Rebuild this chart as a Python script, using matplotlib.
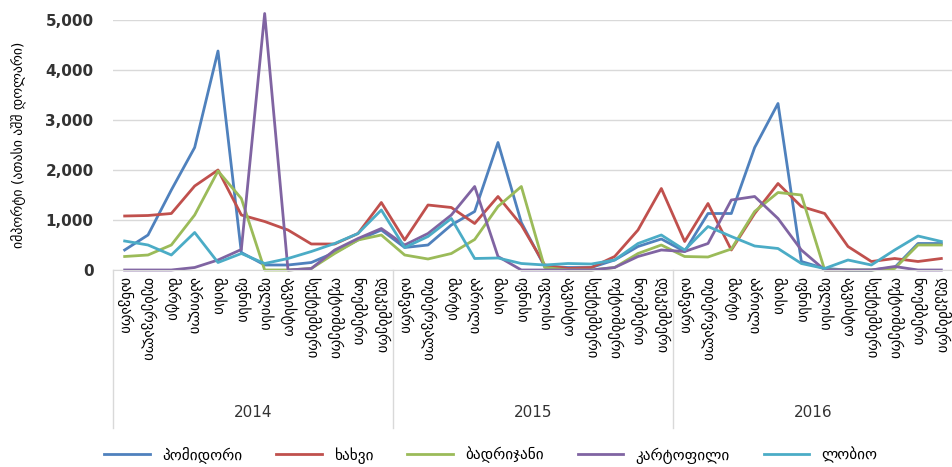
import numpy as np
import matplotlib
matplotlib.use("Agg")
import matplotlib.pyplot as plt
from matplotlib.ticker import FuncFormatter
import matplotlib.transforms as mtransforms

plt.rcParams['font.family'] = ['DejaVu Sans']

months = ["იანვარი", "თებერვალი", "მარტი", "აპრილი", "მაისი", "ივნისი",
          "ივლისი", "აგვისტო", "სექტემბერი", "ოქტომბერი", "ნოემბერი", "დეკემბერი"]
years = ["2014", "2015", "2016"]

# იმპორტი, ათასი აშშ დოლარი (2014-2016, თვეების მიხედვით)
pomidori = [400, 700, 1600, 2450, 4380, 350, 100, 100, 150, 350, 600, 800,
            450, 500, 900, 1170, 2550, 950, 70, 50, 50, 200, 470, 620,
            370, 1130, 1130, 2450, 3330, 170, 30, 0, 0, 50, 530, 530]
xaxvi = [1080, 1090, 1130, 1680, 2000, 1100, 970, 800, 520, 520, 730, 1350,
         600, 1300, 1250, 930, 1470, 900, 100, 30, 50, 270, 800, 1630,
         570, 1330, 400, 1130, 1730, 1270, 1130, 470, 170, 230, 170, 230]
badrijani = [270, 300, 500, 1100, 1980, 1430, 0, 0, 30, 330, 600, 700,
             300, 220, 330, 610, 1270, 1670, 50, 0, 0, 50, 330, 500,
             270, 260, 420, 1170, 1550, 1500, 0, 0, 0, 30, 500, 500]
kartofili = [0, 0, 0, 50, 200, 410, 5130, 0, 30, 400, 630, 830,
             500, 730, 1100, 1670, 270, 0, 0, 0, 0, 50, 270, 400,
             370, 530, 1400, 1470, 1030, 400, 0, 0, 0, 70, 0, 0]
lobio = [580, 500, 300, 750, 150, 330, 130, 230, 370, 530, 730, 1200,
         450, 670, 1030, 230, 240, 130, 100, 130, 120, 200, 530, 700,
         400, 870, 670, 480, 430, 130, 30, 200, 100, 400, 680, 570]

series = [("პომიდორი", pomidori, "#4F81BD"),
          ("ხახვი", xaxvi, "#C0504D"),
          ("ბადრიჯანი", badrijani, "#9BBB59"),
          ("კარტოფილი", kartofili, "#8064A2"),
          ("ლობიო", lobio, "#4BACC6")]

fig = plt.figure(figsize=(9.53, 4.67), dpi=100)
ax = fig.add_axes([113 / 953, 1 - 270 / 467, 840 / 953, 250 / 467])

x = np.arange(len(months) * len(years))
for name, vals, col in series:
    ax.plot(x, vals, color=col, lw=2.0, label=name, clip_on=False)

ax.set_xlim(-0.5, len(x) - 0.5)
ax.set_ylim(0, 5000)
ax.set_yticks(range(0, 5001, 1000))
ax.yaxis.set_major_formatter(FuncFormatter(lambda v, p: f"{int(v):,}"))
ax.grid(axis="y", color="#d9d9d9", lw=1)
ax.set_axisbelow(True)
for s in ["top", "right", "left"]:
    ax.spines[s].set_visible(False)
ax.spines["bottom"].set_color("#d9d9d9")
ax.tick_params(axis="y", length=0, labelsize=11, labelcolor="#333333", pad=14)
for t in ax.get_yticklabels():
    t.set_fontweight("bold")

ax.set_xticks(x)
ax.set_xticklabels(months * len(years), rotation=270, fontsize=10.5, va="top", ha="center")
ax.tick_params(axis="x", length=0, pad=5)

ax.set_ylabel("იმპორტი (ათასი აშშ დოლარი)", fontsize=10)
ax.yaxis.set_label_coords(-(113 - 27) / 840, 0.5)

# year groups
trans = mtransforms.blended_transform_factory(ax.transData, ax.transAxes)
for b in [-0.5, 11.5, 23.5, 35.5]:
    ax.plot([b, b], [0, -0.63], color="#d9d9d9", lw=1, transform=trans, clip_on=False)
for i, yr in enumerate(years):
    ax.text(i * 12 + 5.5, -0.57, yr, transform=trans, ha="center", va="center",
            fontsize=11, color="#333333")

fig.legend(loc="center", bbox_to_anchor=(491 / 953, 1 - 455 / 467), ncol=5,
           frameon=False, fontsize=11, handlelength=3, columnspacing=2.2)

fig.savefig("out.png", dpi=100)
